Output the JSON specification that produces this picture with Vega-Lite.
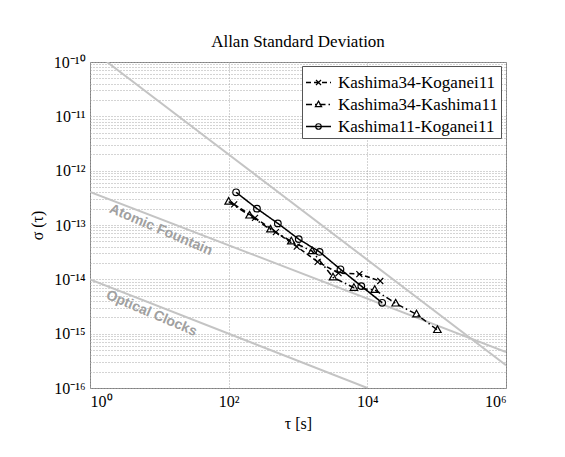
{
  "$schema": "https://vega.github.io/schema/vega-lite/v6.json",
  "width": 416,
  "height": 326,
  "autosize": {"type": "none"},
  "padding": {"left": 90, "top": 62, "right": 59, "bottom": 69},
  "background": "white",
  "title": {"text": "Allan Standard Deviation", "font": "Liberation Serif", "fontSize": 17, "fontWeight": "normal", "color": "#000", "offset": 3, "anchor": "middle"},
  "config": {
    "view": {"stroke": "#808080", "strokeWidth": 1},
    "axis": {"labelFont": "Liberation Serif", "labelFontSize": 16, "labelColor": "#000", "titleFont": "Liberation Serif", "titleFontSize": 16, "titleFontWeight": "normal", "titleColor": "#000", "domain": false, "ticks": false, "gridColor": "#a8a8a8", "gridDash": [1, 2], "gridWidth": 1, "labelPadding": 5},
    "legend": {"labelFont": "Liberation Serif", "labelFontSize": 17, "labelColor": "#000", "labelLimit": 300, "orient": "none", "legendX": 212, "legendY": 4, "padding": 3, "symbolSize": 625, "symbolStrokeWidth": 1.5, "symbolStrokeColor": "#000", "rowPadding": -5, "labelOffset": 6}
  },
  "datasets": {
    "meas": [
      {"series": "Kashima34-Koganei11", "tau": 120, "sigma": 2.4e-13},
      {"series": "Kashima34-Koganei11", "tau": 240, "sigma": 1.35e-13},
      {"series": "Kashima34-Koganei11", "tau": 480, "sigma": 7.4e-14},
      {"series": "Kashima34-Koganei11", "tau": 960, "sigma": 4.0e-14},
      {"series": "Kashima34-Koganei11", "tau": 1920, "sigma": 2.1e-14},
      {"series": "Kashima34-Koganei11", "tau": 3840, "sigma": 1.3e-14},
      {"series": "Kashima34-Koganei11", "tau": 7680, "sigma": 1.25e-14},
      {"series": "Kashima34-Koganei11", "tau": 15360, "sigma": 9.3e-15},
      {"series": "Kashima34-Kashima11", "tau": 100, "sigma": 2.7e-13},
      {"series": "Kashima34-Kashima11", "tau": 200, "sigma": 1.5e-13},
      {"series": "Kashima34-Kashima11", "tau": 400, "sigma": 8.3e-14},
      {"series": "Kashima34-Kashima11", "tau": 800, "sigma": 5.0e-14},
      {"series": "Kashima34-Kashima11", "tau": 1600, "sigma": 3.3e-14},
      {"series": "Kashima34-Kashima11", "tau": 3200, "sigma": 1.09e-14},
      {"series": "Kashima34-Kashima11", "tau": 6400, "sigma": 7.0e-15},
      {"series": "Kashima34-Kashima11", "tau": 12800, "sigma": 6.4e-15},
      {"series": "Kashima34-Kashima11", "tau": 25600, "sigma": 3.6e-15},
      {"series": "Kashima34-Kashima11", "tau": 51200, "sigma": 2.27e-15},
      {"series": "Kashima34-Kashima11", "tau": 102400, "sigma": 1.17e-15},
      {"series": "Kashima11-Koganei11", "tau": 128, "sigma": 4.0e-13},
      {"series": "Kashima11-Koganei11", "tau": 256, "sigma": 2.0e-13},
      {"series": "Kashima11-Koganei11", "tau": 512, "sigma": 1.07e-13},
      {"series": "Kashima11-Koganei11", "tau": 1024, "sigma": 5.5e-14},
      {"series": "Kashima11-Koganei11", "tau": 2048, "sigma": 3.2e-14},
      {"series": "Kashima11-Koganei11", "tau": 4096, "sigma": 1.53e-14},
      {"series": "Kashima11-Koganei11", "tau": 8192, "sigma": 7.5e-15},
      {"series": "Kashima11-Koganei11", "tau": 16384, "sigma": 3.7e-15}
    ],
    "ref": [
      {"line": "upper", "tau": 1.76, "sigma": 1e-10},
      {"line": "upper", "tau": 1000000, "sigma": 2.63e-16},
      {"line": "fountain", "tau": 1, "sigma": 4.07e-13},
      {"line": "fountain", "tau": 1000000, "sigma": 4.6e-16},
      {"line": "optical", "tau": 1, "sigma": 1e-14},
      {"line": "optical", "tau": 10000, "sigma": 1e-16}
    ],
    "labels": [
      {"text": "Atomic Fountain", "tau": 10.5, "sigma": 8.1e-14},
      {"text": "Optical Clocks", "tau": 7.7, "sigma": 2.35e-15}
    ]
  },
  "encoding": {
    "x": {"field": "tau", "type": "quantitative", "title": "τ [s]",
      "scale": {"type": "log", "domain": [1, 1000000], "nice": false},
      "axis": {"values": [1, 100, 10000, 1000000], "titlePadding": 6,
        "labelExpr": "round(log(datum.value)/LN10) == 0 ? '10⁰' : round(log(datum.value)/LN10) == 2 ? '10²' : round(log(datum.value)/LN10) == 4 ? '10⁴' : '10⁶'"}},
    "y": {"field": "sigma", "type": "quantitative", "title": "σ (τ)",
      "scale": {"type": "log", "domain": [1e-16, 1e-10], "nice": false},
      "axis": {"titlePadding": 8,
        "values": [1e-16, 2e-16, 3e-16, 4e-16, 5e-16, 6e-16, 7e-16, 8e-16, 9e-16,
                   1e-15, 2e-15, 3e-15, 4e-15, 5e-15, 6e-15, 7e-15, 8e-15, 9e-15,
                   1e-14, 2e-14, 3e-14, 4e-14, 5e-14, 6e-14, 7e-14, 8e-14, 9e-14,
                   1e-13, 2e-13, 3e-13, 4e-13, 5e-13, 6e-13, 7e-13, 8e-13, 9e-13,
                   1e-12, 2e-12, 3e-12, 4e-12, 5e-12, 6e-12, 7e-12, 8e-12, 9e-12,
                   1e-11, 2e-11, 3e-11, 4e-11, 5e-11, 6e-11, 7e-11, 8e-11, 9e-11, 1e-10],
        "labelExpr": "abs(datum.value / pow(10, round(log(datum.value)/LN10)) - 1) > 0.01 ? '' : round(log(datum.value)/LN10) == -10 ? '10⁻¹⁰' : round(log(datum.value)/LN10) == -11 ? '10⁻¹¹' : round(log(datum.value)/LN10) == -12 ? '10⁻¹²' : round(log(datum.value)/LN10) == -13 ? '10⁻¹³' : round(log(datum.value)/LN10) == -14 ? '10⁻¹⁴' : round(log(datum.value)/LN10) == -15 ? '10⁻¹⁵' : '10⁻¹⁶'"}}
  },
  "layer": [
    {
      "data": {"name": "ref"},
      "mark": {"type": "line", "color": "#c4c4c4", "strokeWidth": 2, "clip": true},
      "encoding": {"detail": {"field": "line"}}
    },
    {
      "data": {"name": "labels"},
      "mark": {"type": "text", "font": "Liberation Sans", "fontWeight": "bold", "fontSize": 14, "color": "#a0a0a0", "angle": 23, "align": "center", "baseline": "middle"},
      "encoding": {"text": {"field": "text"}}
    },
    {
      "data": {"name": "meas"},
      "mark": {"type": "line", "color": "#000", "strokeWidth": 1.5},
      "encoding": {
        "strokeDash": {"field": "series", "type": "nominal", "title": null,
          "scale": {"domain": ["Kashima34-Koganei11", "Kashima34-Kashima11", "Kashima11-Koganei11"], "range": [[5, 3], [6, 3, 1.5, 3], [1, 0]]},
          "legend": {"symbolType": "stroke", "fillColor": "white", "strokeColor": "#555", "zindex": 1, "labelFont": "Liberation Serif", "labelFontSize": 17}
        }
      }
    },
    {
      "data": {"name": "meas"},
      "transform": [{"calculate": "datum.series + ' marker'", "as": "marker"}],
      "mark": {"type": "point", "filled": false, "color": "#000", "strokeWidth": 1.2, "opacity": 1, "size": 900},
      "encoding": {
        "shape": {"field": "marker", "type": "nominal", "title": null,
          "scale": {"domain": ["Kashima34-Koganei11 marker", "Kashima34-Kashima11 marker", "Kashima11-Koganei11 marker"],
            "range": ["M-0.2,-0.2L0.2,0.2M-0.2,0.2L0.2,-0.2", "M0,-0.27L0.25,0.17L-0.25,0.17Z", "M0.22,0A0.22,0.22,0,1,1,-0.22,0A0.22,0.22,0,1,1,0.22,0"]},
          "legend": {"labelOpacity": 0, "labelExpr": "' '", "fillColor": "transparent", "strokeColor": "transparent", "symbolFillColor": "white", "symbolStrokeWidth": 1.2, "zindex": 2}
        }
      }
    }
  ]
}
